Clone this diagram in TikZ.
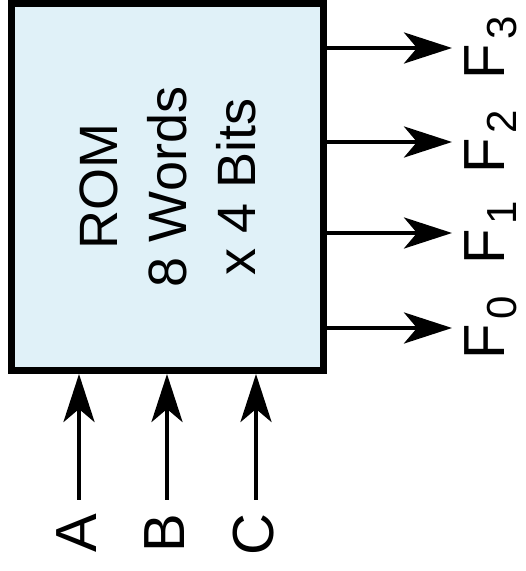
\documentclass[tikz,border=0pt]{standalone}
\usepackage{fontspec}
\setmainfont{Liberation Sans}
\usetikzlibrary{arrows.meta}

\definecolor{romfill}{RGB}{224,241,248}

\begin{document}
\begin{tikzpicture}[x=0.5pt,y=0.5pt,
        arr/.style={line width=2.2pt,-{Stealth[length=24pt,width=15.5pt,inset=6.5pt]}},
        pin/.style={rotate=90,inner sep=0pt,font=\fontsize{29}{29}\selectfont}]
            \useasboundingbox (0,0) rectangle (525,571);

            %bloco da ROM
            \node[draw,fill=romfill,line width=3.5pt,inner sep=0pt,
                minimum width=156pt,minimum height=183.5pt] (rom) at (167.5,384) {};
            \node[rotate=90,align=center,font=\fontsize{27}{34.5}\selectfont]
                (romtxt) at (rom.center) {ROM\\8 Words\\x 4 Bits};

            %saidas F3..F0
            \foreach \i/\y in {3/523,2/429,1/338,0/243} {
                \node[pin,anchor=north] (F\i) at (464,\y)
                    {F\kern2pt\raisebox{-6pt}{\fontsize{21}{21}\selectfont\i}};
                \draw[arr,shorten >=6pt] (rom.east |- F\i) -- (F\i.north);
            }

            %entradas A, B, C
            \foreach \n/\x in {A/79,B/167,C/256} {
                \coordinate (in\n) at (\x,71);
                \node[pin,anchor=east] (\n) at ([xshift=-1pt,yshift=-6.5pt]in\n) {\n};
                \draw[arr] (in\n) -- (in\n |- rom.south);
            }
        \end{tikzpicture}
\end{document}
